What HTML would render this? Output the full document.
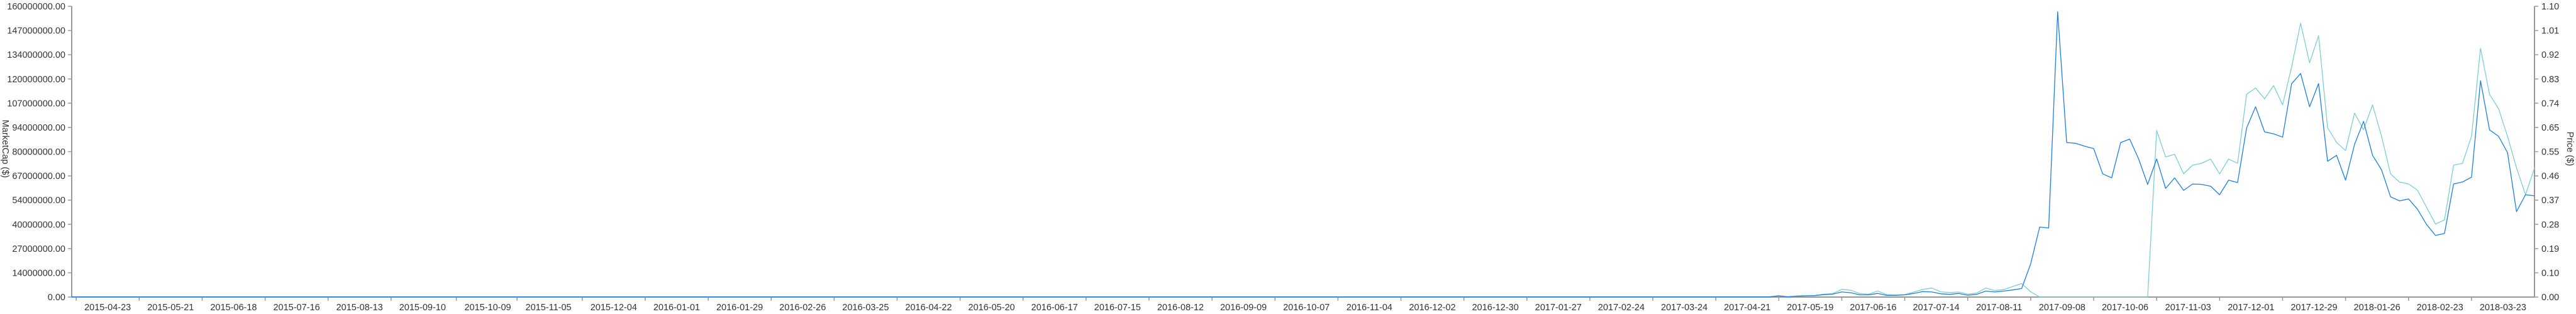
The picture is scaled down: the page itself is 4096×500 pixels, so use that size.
<!DOCTYPE html>
<html><head><meta charset="utf-8"><style>
html,body{margin:0;padding:0;background:#fff;}
svg{display:block;}
text{font-family:"Liberation Sans",sans-serif;font-size:14.5px;fill:#333;}
</style></head><body>
<svg id="chart" width="4096" height="500" xmlns="http://www.w3.org/2000/svg">
<g id="grid"></g>
<g id="series"></g>
<text transform="translate(4,237) rotate(90)" text-anchor="middle">MarketCap ($)</text>
<text transform="translate(4082,237) rotate(90)" text-anchor="middle">Price ($)</text>
</svg>
<script>
const dates = ['2015-04-21','2017-04-25','2017-04-29','2017-05-03','2017-05-07','2017-05-11','2017-05-15','2017-05-19','2017-05-23','2017-05-27','2017-05-31','2017-06-04','2017-06-08','2017-06-12','2017-06-16','2017-06-20','2017-06-24','2017-06-28','2017-07-02','2017-07-06','2017-07-10','2017-07-14','2017-07-18','2017-07-22','2017-07-26','2017-07-30','2017-08-03','2017-08-07','2017-08-11','2017-08-15','2017-08-19','2017-08-23','2017-08-27','2017-08-31','2017-09-04','2017-09-08','2017-09-12','2017-09-16','2017-09-20','2017-09-24','2017-09-28','2017-10-02','2017-10-06','2017-10-10','2017-10-14','2017-10-18','2017-10-22','2017-10-26','2017-10-30','2017-11-03','2017-11-07','2017-11-11','2017-11-15','2017-11-19','2017-11-23','2017-11-27','2017-12-01','2017-12-05','2017-12-09','2017-12-13','2017-12-17','2017-12-21','2017-12-25','2017-12-29','2018-01-02','2018-01-06','2018-01-10','2018-01-14','2018-01-18','2018-01-22','2018-01-26','2018-01-30','2018-02-03','2018-02-07','2018-02-11','2018-02-15','2018-02-19','2018-02-23','2018-02-27','2018-03-03','2018-03-07','2018-03-11','2018-03-15','2018-03-19','2018-03-23','2018-03-27','2018-03-31','2018-04-04','2018-04-08','2018-04-12','2018-04-16','2018-04-20'];
const marketCapM = [0.1,0.1,0.1,0.1,0.1,0.1,0.1,0.7,0.1,0.5,0.7,0.8,1.3,1.6,2.8,2.4,1.2,1.2,2.0,0.9,0.9,1.2,2.0,3.0,2.8,1.8,1.5,2.0,1.0,1.5,3.3,2.8,3.3,3.9,4.7,18.3,38.5,38,157,85,84.6,83,81.7,67.8,65.6,85,86.9,76,62,76,59.8,65.6,58.7,62.2,62,61,56.3,64.3,63,93,104.7,90.9,89.8,88,117.4,123,104.7,117.5,74.7,78,64.3,84,96.7,78,70,55.2,52.9,54,48.3,40,33.9,35,62.2,63.3,66,119,92,88.5,79.5,47,56.3,55.7];
const priceUSD = [0.001,0.001,0.001,0.001,0.001,0.001,0.001,0.005,0.001,0.004,0.005,0.006,0.011,0.013,0.029,0.026,0.013,0.011,0.023,0.009,0.008,0.009,0.019,0.029,0.034,0.020,0.017,0.019,0.011,0.015,0.034,0.025,0.028,0.040,0.051,0.02,0,0,0,0,0,0,0,0,0,0,0,0,0,0.63,0.53,0.54,0.466,0.499,0.506,0.522,0.466,0.522,0.506,0.767,0.791,0.75,0.80,0.727,0.87,1.036,0.886,0.989,0.641,0.585,0.554,0.696,0.633,0.727,0.608,0.466,0.435,0.428,0.404,0.340,0.276,0.292,0.499,0.506,0.608,0.941,0.767,0.713,0.608,0.489,0.387,0.489];
const leftTickLabels = ['0.00','14000000.00','27000000.00','40000000.00','54000000.00','67000000.00','80000000.00','94000000.00','107000000.00','120000000.00','134000000.00','147000000.00','160000000.00'];
const rightTickLabels = ['0.00','0.10','0.19','0.28','0.37','0.46','0.55','0.65','0.74','0.83','0.92','1.01','1.10'];
const xTickLabels = ['2015-04-23','2015-05-21','2015-06-18','2015-07-16','2015-08-13','2015-09-10','2015-10-09','2015-11-05','2015-12-04','2016-01-01','2016-01-29','2016-02-26','2016-03-25','2016-04-22','2016-05-20','2016-06-17','2016-07-15','2016-08-12','2016-09-09','2016-10-07','2016-11-04','2016-12-02','2016-12-30','2017-01-27','2017-02-24','2017-03-24','2017-04-21','2017-05-19','2017-06-16','2017-07-14','2017-08-11','2017-09-08','2017-10-06','2017-11-03','2017-12-01','2017-12-29','2018-01-26','2018-02-23','2018-03-23'];

const X0=114, X1=4030, Y0=473, Y1=10;
const D0=Date.UTC(2015,3,21), D1=Date.UTC(2018,3,20);
function t(s){const p=s.split('-');return Date.UTC(+p[0],+p[1]-1,+p[2]);}
function xs(s){return X0+(t(s)-D0)/(D1-D0)*(X1-X0);}
function yl(v){return Y0-v/160*(Y0-Y1);}
function yr(v){return Y0-v/1.1*(Y0-Y1);}
const NS='http://www.w3.org/2000/svg';
const grid=document.getElementById('grid'), ser=document.getElementById('series');
function mk(tag,attrs,parent){const e=document.createElementNS(NS,tag);for(const k in attrs)e.setAttribute(k,attrs[k]);parent.appendChild(e);return e;}

let e;
e=mk('line',{x1:X0,y1:Y1,x2:X0,y2:Y0+1,stroke:'#999','stroke-width':2},grid);


e=mk('line',{x1:X1,y1:Y1,x2:X1,y2:Y0+1,stroke:'#999','stroke-width':2},grid);


e=mk('line',{x1:X0,y1:Y0,x2:X1,y2:Y0,stroke:'#999','stroke-width':2},grid);



leftTickLabels.forEach((lab,i)=>{
  const y=Y0-i*(Y0-Y1)/12;
  e=mk('line',{x1:X0-6,y1:y,x2:X0,y2:y,stroke:'#999','stroke-width':1.5},grid);
  
  
  e=mk('text',{x:X0-10,y:y+5,'text-anchor':'end'},grid);
  e.textContent=lab;
  
  
});
rightTickLabels.forEach((lab,i)=>{
  const y=Y0-i*(Y0-Y1)/12;
  e=mk('line',{x1:X1,y1:y,x2:X1+6,y2:y,stroke:'#999','stroke-width':1.5},grid);
  
  
  e=mk('text',{x:X1+11,y:y+5,'text-anchor':'start'},grid);
  e.textContent=lab;
  
  
});
xTickLabels.forEach(lab=>{
  const x=xs(lab);
  e=mk('line',{x1:x,y1:Y0,x2:x,y2:Y0+6,stroke:'#999','stroke-width':1.5},grid);
  
  
  e=mk('text',{x:x+50,y:494,'text-anchor':'middle'},grid);
  e.textContent=lab;
  
  
});

const pPts=dates.map((d,i)=>xs(d).toFixed(1)+','+yr(priceUSD[i]).toFixed(1)).join(' ');
e=mk('polyline',{points:pPts,fill:'none',stroke:'#7ccdd6','stroke-width':1.3,'stroke-linejoin':'round'},ser);


const mPts=dates.map((d,i)=>xs(d).toFixed(1)+','+yl(marketCapM[i]).toFixed(1)).join(' ');
e=mk('polyline',{points:mPts,fill:'none',stroke:'#1a7fe3','stroke-width':1.3,'stroke-linejoin':'round'},ser);


</script>
</body></html>
